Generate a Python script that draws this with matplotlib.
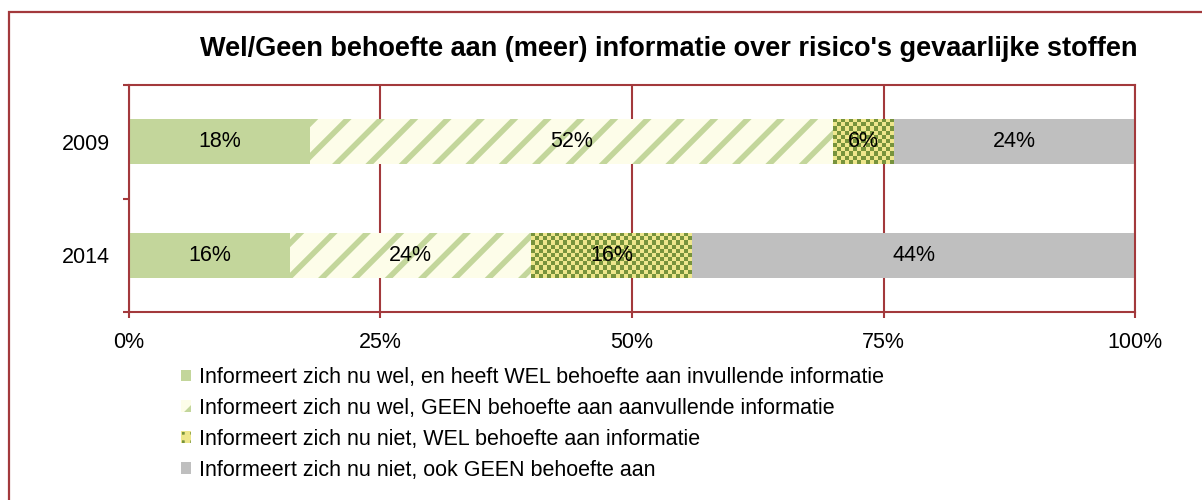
import numpy as np
import matplotlib
matplotlib.use("Agg")
import matplotlib.pyplot as plt
from matplotlib.patches import Rectangle, Patch
from matplotlib.colors import ListedColormap

plt.rcParams['font.family'] = ['Liberation Sans', 'DejaVu Sans']
plt.rcParams['hatch.linewidth'] = 4.0

# gegevens
jaren = ['2014', '2009']
wel_wel = [16, 18]
wel_geen = [24, 52]
niet_wel = [16, 6]
niet_geen = [44, 24]
labels = ['Informeert zich nu wel, en heeft WEL behoefte aan invullende informatie',
          'Informeert zich nu wel, GEEN behoefte aan aanvullende informatie',
          'Informeert zich nu niet, WEL behoefte aan informatie',
          'Informeert zich nu niet, ook GEEN behoefte aan']
titel = "Wel/Geen behoefte aan (meer) informatie over risico's gevaarlijke stoffen"

rood = '#A3393C'
groen = '#C3D69B'
creme = '#FDFDE9'
donkergroen = '#77933C'
geel = '#EEE68C'
grijs = '#BFBFBF'
fs = 15.5

fig = plt.figure(figsize=(12.02, 5.0), dpi=100)
ax = fig.add_axes([0.1073, 0.376, 0.837, 0.454])

y = np.arange(len(jaren))
h = 0.4
b1 = ax.barh(y, wel_wel, height=h, color=groen, linewidth=0, zorder=2)
left = np.array(wel_wel)
b2 = ax.barh(y, wel_geen, left=left, height=h, facecolor=creme, edgecolor=groen,
             hatch='/', linewidth=0, zorder=2)
left = left + np.array(wel_geen)
b3 = ax.barh(y, niet_wel, left=left, height=h, color=donkergroen, linewidth=0, zorder=2)
left = left + np.array(niet_wel)
b4 = ax.barh(y, niet_geen, left=left, height=h, color=grijs, linewidth=0, zorder=2)

ax.set_xlim(0, 100)
ax.set_ylim(-0.5, 1.5)

# geblokt patroon over de derde reeks
cmap = ListedColormap([donkergroen, geel])
fig.canvas.draw()
for p in b3.patches:
    x0, y0, w, hh = p.get_x(), p.get_y(), p.get_width(), p.get_height()
    (px0, py0), (px1, py1) = ax.transData.transform([(x0, y0), (x0 + w, y0 + hh)])
    nx = max(int(round((px1 - px0) / 4)), 1)
    ny = max(int(round((py1 - py0) / 4)), 1)
    grid = (np.add.outer(np.arange(ny), np.arange(nx)) % 2).astype(float)
    im = ax.imshow(grid, cmap=cmap, extent=(x0, x0 + w, y0, y0 + hh), aspect='auto',
                   interpolation='nearest', zorder=2.5)
    im.set_clip_path(p)

# datalabels
for bars, vals in [(b1, wel_wel), (b2, wel_geen), (b3, niet_wel), (b4, niet_geen)]:
    for p, v in zip(bars.patches, vals):
        ax.text(p.get_x() + p.get_width() / 2, p.get_y() + p.get_height() / 2, f'{v}%',
                ha='center', va='center', fontsize=fs, color='black', zorder=4)

ax.set_xticks([0, 25, 50, 75, 100])
ax.set_xticklabels(['0%', '25%', '50%', '75%', '100%'], fontsize=fs)
ax.set_yticks(y)
ax.set_yticklabels(jaren, fontsize=fs)
ax.set_yticks([-0.5, 0.5, 1.5], minor=True)
ax.tick_params(axis='y', which='major', length=0, pad=13.5)
ax.tick_params(axis='y', which='minor', length=4, color=rood, width=1.5)
ax.tick_params(axis='x', length=4, color=rood, width=1.5, pad=10.5)
ax.xaxis.grid(True, color=rood, linewidth=1.5, zorder=1)
ax.set_axisbelow(True)
for s in ax.spines.values():
    s.set_color(rood)
    s.set_linewidth(1.5)

fig.text(0.5566, 0.903, titel, ha='center', va='center', fontsize=19.5, fontweight='bold')

# legenda
handles = [Patch(facecolor=groen, linewidth=0),
           Patch(facecolor=creme, edgecolor=groen, hatch='/', linewidth=0),
           Patch(facecolor=donkergroen, edgecolor=geel, hatch='++', linewidth=0),
           Patch(facecolor=grijs, linewidth=0)]
fig.legend(handles, labels, loc='upper left', bbox_to_anchor=(0.1505, 0.266), frameon=False,
           fontsize=fs, handlelength=0.45, handleheight=0.45, handletextpad=0.4,
           labelspacing=0.46, borderaxespad=0, borderpad=0)

# kader rond de grafiek
fig.patches.append(Rectangle((9 / 1202, -0.2), 1.2, 0.976 + 0.2, transform=fig.transFigure,
                             fill=False, edgecolor=rood, linewidth=1.6, clip_on=False))

fig.savefig('out.png', dpi=100)
